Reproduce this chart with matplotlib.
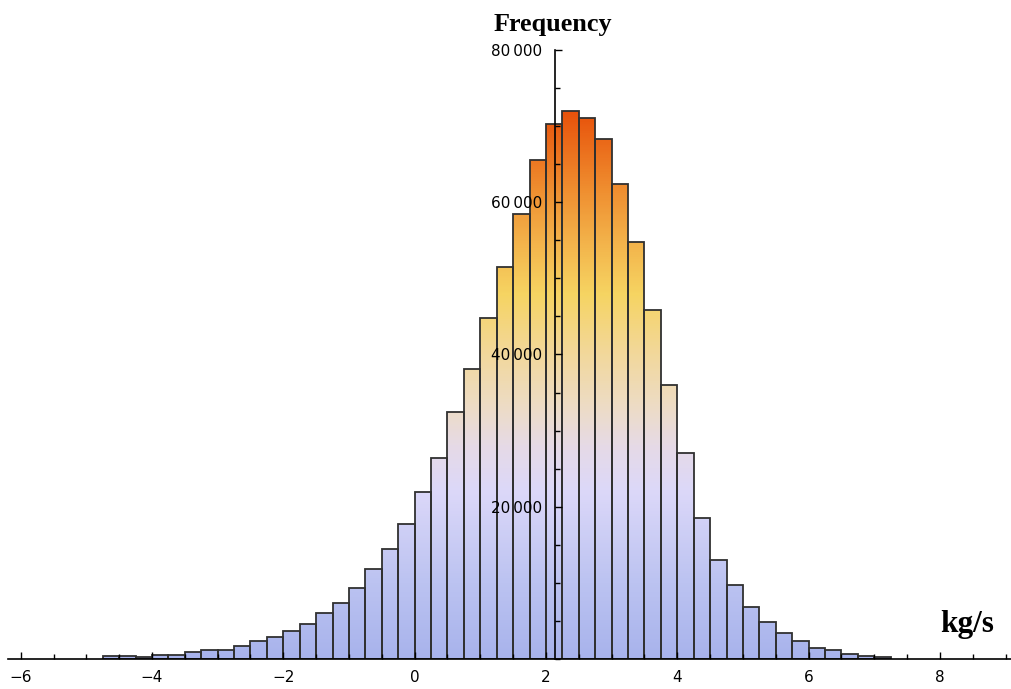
import numpy as np
import matplotlib
matplotlib.use("Agg")
import matplotlib.pyplot as plt
from matplotlib.colors import LinearSegmentedColormap
from matplotlib.path import Path

# ---- data ----
bin_start = -4.75
bin_width = 0.25
counts = [350, 380, 300, 550, 550, 850, 1150, 1170, 1750, 2380, 2900, 3710,
          4560, 5990, 7390, 9300, 11810, 14400, 17730, 21970, 26440, 32440,
          38090, 44730, 51480, 58420, 65500, 70300, 71990, 71070, 68300,
          62430, 54800, 45780, 36000, 27010, 18560, 12950, 9710, 6780, 4810,
          3440, 2350, 1390, 1170, 600, 380, 290]
xticks = [-6, -4, -2, 0, 2, 4, 6, 8]
xtick_labels = ["\u22126", "\u22124", "\u22122", "0", "2", "4", "6", "8"]
yticks = [20000, 40000, 60000, 80000]
ytick_labels = ["20\u2009000", "40\u2009000", "60\u2009000", "80\u2009000"]
x_label = "kg/s"
y_label = "Frequency"

# gradient stops by value
grad_vals = [0, 10000, 22000, 28000, 33000, 40000, 48000, 55000, 62000, 72000, 80000]
grad_cols = ["#a8b3ec", "#bcc3f1", "#dcd8f9", "#e6dae6", "#eddcc6", "#f2d89c",
             "#f6d462", "#f3b24a", "#ef8d2f", "#e8520b", "#e44400"]

# ---- figure ----
W, H = 1012, 689
fig = plt.figure(figsize=(W / 100, H / 100), dpi=100)
ax = fig.add_axes([8 / W, (H - 658.9) / H, 1 - 8 / W, (658.9 - 50) / H])
xmin, xmax = -6.193, 9.097
ax.set_xlim(xmin, xmax)
ax.set_ylim(0, 80000)

n = len(counts)
lefts = bin_start + bin_width * np.arange(n)
bars = ax.bar(lefts, counts, width=bin_width, align="edge", facecolor="none",
              edgecolor="#303030", linewidth=1.3, zorder=3)

cmap = LinearSegmentedColormap.from_list(
    "grad", [(v / 80000, c) for v, c in zip(grad_vals, grad_cols)])
grad = np.linspace(0, 1, 600).reshape(-1, 1)
im = ax.imshow(grad, extent=[xmin, xmax, 0, 80000], origin="lower",
               aspect="auto", cmap=cmap, vmin=0, vmax=1, zorder=2,
               interpolation="bilinear")
paths = [p.get_path().transformed(p.get_patch_transform()) for p in bars.patches]
clip = Path.make_compound_path(*paths)
im.set_clip_path(clip, transform=ax.transData)

# spines
for s in ["top", "right"]:
    ax.spines[s].set_visible(False)
ax.spines["left"].set_position(("data", 2.13))
ax.spines["left"].set_linewidth(1.2)
ax.spines["bottom"].set_linewidth(1.2)
ax.spines["left"].set_zorder(5)
ax.spines["bottom"].set_zorder(5)
ax.xaxis.set_zorder(6)
ax.yaxis.set_zorder(6)

ax.set_xticks(xticks)
ax.set_xticklabels(xtick_labels)
ax.set_xticks(np.arange(-6, 9.01, 0.5), minor=True)
ax.set_yticks(yticks)
ax.set_yticklabels(ytick_labels)
ax.set_yticks(np.arange(0, 80001, 5000), minor=True)
ax.tick_params(axis="x", which="major", direction="in", length=5, width=1.0,
               pad=8, labelsize=11)
ax.tick_params(axis="x", which="minor", direction="in", length=3.5, width=1.0)
ax.tick_params(axis="y", which="major", direction="in", length=5, width=1.0,
               pad=9, labelsize=11)
ax.tick_params(axis="y", which="minor", direction="in", length=3.5, width=1.0)

fig.text(553 / W, 1 - 31 / H, y_label, ha="center", va="baseline",
         family="Liberation Serif", fontweight="bold", fontsize=18.8)
fig.text(967 / W, 1 - 632 / H, x_label, ha="center", va="baseline",
         family="Liberation Serif", fontweight="bold", fontsize=22.5)

fig.savefig("out.png", dpi=100)
